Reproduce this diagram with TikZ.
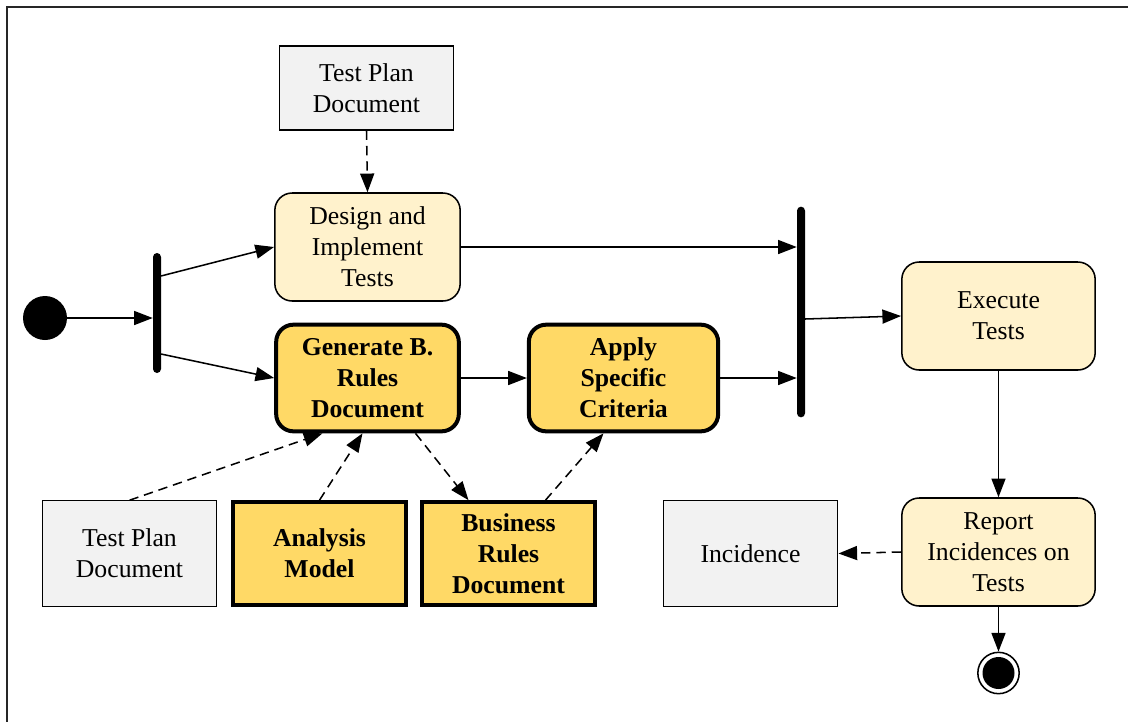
\documentclass[tikz,border=0pt]{standalone}
\usepackage{fontspec}
\setmainfont{Liberation Serif}
\usetikzlibrary{calc,arrows.meta}
\definecolor{cream}{HTML}{FFF2CC}
\definecolor{gold}{HTML}{FFD966}
\definecolor{paper}{HTML}{F2F2F2}
\begin{document}
\begin{tikzpicture}[x=0.75pt,y=-0.75pt,
  font=\fontsize{19.3}{23.2}\selectfont,
  every node/.style={align=center,inner sep=0pt},
  flow/.style={line width=1.15pt,-{Triangle[length=14pt,width=10.5pt]}},
  dep/.style={flow,dash pattern=on 7pt off 4.5pt},
  activity/.style={draw,line width=1.15pt,rounded corners=13pt,fill=cream,
    minimum width=139pt,minimum height=81pt},
  keyact/.style={draw,line width=3pt,rounded corners=13pt,fill=gold,
    minimum width=137pt,minimum height=80pt,font=\fontsize{19.3}{23.2}\selectfont\bfseries},
  artifact/.style={draw,line width=0.9pt,fill=paper,
    minimum width=131pt,minimum height=79pt},
  keyart/.style={draw,line width=3pt,fill=gold,
    minimum width=130pt,minimum height=77pt,font=\fontsize{19.3}{23.2}\selectfont\bfseries},
  bar/.style={fill=black,rounded corners=3pt,minimum width=6pt},
]
\useasboundingbox (0,0) rectangle (1128,722);
\draw[line width=1.5pt,black!85] (1128,7) -- (7,7) -- (7,722);

% initial node and fork
\node[circle,fill=black,minimum size=33pt] (start) at (45,318) {};
\node[bar,minimum height=90pt] (fork) at (157,313) {};

% activities
\node[activity] (des) at (367.5,247) {Design and\\Implement\\Tests};
\node[keyact] (gen) at (367.5,378) {Generate B.\\Rules\\Document};
\node[keyact,minimum width=142pt] (app) at (623.5,378) {Apply\\Specific\\Criteria};
\node[bar,minimum height=158pt] (join) at (801,312) {};
\node[activity,minimum width=145pt] (exe) at (998.5,316) {Execute\\Tests};
\node[activity,minimum width=145pt] (rep) at (998.5,552) {Report\\Incidences on\\Tests};

% final node
\node[circle,draw,line width=1.15pt,fill=white,minimum size=31pt] (stop) at (998.5,673) {};
\fill[black] (stop.center) circle (12pt);

% artifacts
\node[artifact,minimum height=63pt] (tpa) at (366.5,88) {Test Plan\\Document};
\node[artifact] (tpb) at (129.5,553.5) {Test Plan\\Document};
\node[keyart] (ana) at (319.5,553.5) {Analysis\\Model};
\node[keyart] (bus) at (508.5,553.5) {Business\\Rules\\Document};
\node[artifact] (inc) at (750.5,553.5) {Incidence};

% control flow
\draw[flow] (start.east) -- (fork.west |- start.center);
\draw[flow] ($(fork.center)+(4,-37)$) -- (des.west);
\draw[flow] ($(fork.center)+(4,41)$) -- (gen.west);
\draw[flow] (des.east) -- (des.east -| join.west);
\draw[flow] (gen.east) -- (app.west);
\draw[flow] (app.east) -- (app.east -| join.west);
\draw[flow] ($(join.center)+(4,7)$) -- (exe.west);
\draw[flow] (exe.south) -- (rep.north);
\draw[flow] (rep.south) -- (stop.north);

% object flow
\draw[dep] (tpa.south) -- (des.north);
\draw[dep] (tpb.north) -- ($(gen.south)+(-45,0)$);
\draw[dep] (ana.north) -- ($(gen.south)+(-5,0)$);
\draw[dep] ($(gen.south)+(48,0)$) -- ($(bus.north)+(-40,0)$);
\draw[dep] ($(bus.north)+(37,0)$) -- ($(app.south)+(-20,0)$);
\draw[dep] (rep.west) -- (inc.east);
\end{tikzpicture}
\end{document}
